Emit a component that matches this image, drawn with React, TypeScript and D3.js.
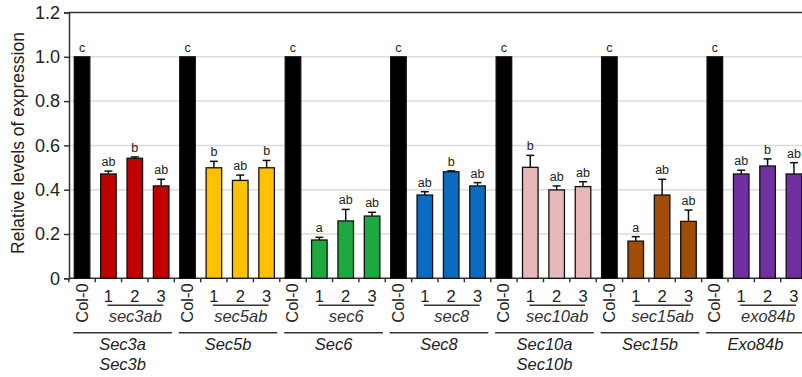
import React, { useEffect, useMemo, useRef } from "react";
import * as d3 from "d3";

const genes = [["Sec3a", "Sec3b"], ["Sec5b"], ["Sec6"], ["Sec8"], ["Sec10a", "Sec10b"], ["Sec15b"], ["Exo84b"]];
const mutants = ["sec3ab", "sec5ab", "sec6", "sec8", "sec10ab", "sec15ab", "exo84b"];
const lines = ["Col-0", "1", "2", "3"];
const means = [
  [1, 0.471, 0.542, 0.417],
  [1, 0.499, 0.442, 0.499],
  [1, 0.173, 0.259, 0.281],
  [1, 0.376, 0.481, 0.417],
  [1, 0.501, 0.399, 0.414],
  [1, 0.168, 0.376, 0.257],
  [1, 0.471, 0.507, 0.471],
];
const errors = [
  [0, 0.013, 0.006, 0.03],
  [0, 0.029, 0.024, 0.033],
  [0, 0.012, 0.052, 0.017],
  [0, 0.015, 0.004, 0.015],
  [0, 0.054, 0.018, 0.022],
  [0, 0.02, 0.071, 0.051],
  [0, 0.017, 0.032, 0.051],
];
const letters = [
  ["c", "ab", "b", "ab"],
  ["c", "b", "ab", "b"],
  ["c", "a", "ab", "ab"],
  ["c", "ab", "b", "ab"],
  ["c", "b", "ab", "ab"],
  ["c", "a", "ab", "ab"],
  ["c", "ab", "b", "ab"],
];
const yTicks = [0, 0.2, 0.4, 0.6, 0.8, 1.0, 1.2];
const colors = ["#c00000", "#ffc000", "#1fa83f", "#0a6cc0", "#e6b9b8", "#a04d08", "#7030a0"];

const FONT = "'Liberation Sans', Arial, sans-serif";
const TXT = "#222";
const WIDTH = 802;
const HEIGHT = 377;
const LEFT = 69;
const TOP = 12.5;
const BOTTOM = 278.3;

type Bar = { key: string; g: number; i: number; value: number; err: number; letter: string };

const bars: Bar[] = [];
means.forEach((row, g) =>
  row.forEach((value, i) =>
    bars.push({ key: `${g}-${i}`, g, i, value, err: errors[g][i], letter: letters[g][i] })
  )
);

export default function App() {
  const yAxisRef = useRef<SVGGElement>(null);

  const xScale = useMemo(
    () =>
      d3
        .scaleBand<string>()
        .domain(bars.map((d) => d.key))
        .range([LEFT, 807])
        .paddingInner(0.41)
        .paddingOuter(0.2),
    []
  );

  const yScale = useMemo(() => d3.scaleLinear().domain([0, 1.2]).range([BOTTOM, TOP]), []);

  useEffect(() => {
    const g = d3.select(yAxisRef.current);
    g.selectAll("*").remove();
    const axis = d3
      .axisLeft(yScale)
      .tickValues(yTicks)
      .tickSize(5)
      .tickPadding(4)
      .tickFormat((d) => (+d === 0 ? "0" : d3.format(".1f")(+d)));
    g.call(axis);
    g.select(".domain").attr("stroke", "#333").attr("stroke-width", 1.5);
    g.selectAll(".tick line").attr("stroke", "#333").attr("stroke-width", 1.5);
    g.selectAll(".tick text")
      .attr("font-size", 18)
      .attr("font-family", FONT)
      .attr("fill", TXT);
  }, [yScale]);

  const step = xScale.step();
  const bw = xScale.bandwidth();
  const half = (step * xScale.paddingInner()) / 2;
  const cx = (b: Bar) => (xScale(b.key) as number) + bw / 2;
  const boundaries = bars.map((b) => (xScale(b.key) as number) - half);

  return (
    <svg
      width={WIDTH}
      height={HEIGHT}
      style={{ position: "absolute", left: 0, top: 0, background: "#fff" }}
      fontFamily={FONT}
    >
      {/* grid */}
      {yTicks
        .filter((t) => t > 0 && t < 1.2)
        .map((t) => (
          <line key={t} x1={LEFT} x2={WIDTH} y1={yScale(t)} y2={yScale(t)} stroke="#dcdcdc" strokeWidth={1.5} />
        ))}

      {/* frame top + bottom */}
      <line x1={LEFT} x2={WIDTH} y1={TOP} y2={TOP} stroke="#333" strokeWidth={1.5} />
      <line x1={LEFT} x2={WIDTH} y1={BOTTOM} y2={BOTTOM} stroke="#333" strokeWidth={1.5} />
      {boundaries.map((x, k) => (
        <line key={k} x1={x} x2={x} y1={BOTTOM} y2={BOTTOM + 4} stroke="#333" strokeWidth={1.5} />
      ))}

      {/* bars */}
      {bars.map((b) => {
        const x = xScale(b.key) as number;
        const top = yScale(b.value);
        const errTop = yScale(b.value + b.err);
        const fill = b.i === 0 ? "#000" : colors[b.g];
        return (
          <g key={b.key}>
            <rect x={x} y={top} width={bw} height={BOTTOM - top} fill={fill} stroke="#111" strokeWidth={1.3} />
            {b.err > 0 && (
              <g stroke="#111" strokeWidth={1.5}>
                <line x1={cx(b)} x2={cx(b)} y1={top} y2={errTop} />
                <line x1={cx(b) - 4} x2={cx(b) + 4} y1={errTop} y2={errTop} />
              </g>
            )}
            <text x={cx(b)} y={errTop - 5} textAnchor="middle" fontSize={12.5} fill={TXT}>
              {b.letter}
            </text>
          </g>
        );
      })}

      {/* y axis */}
      <g ref={yAxisRef} transform={`translate(${LEFT},0)`} />
      <text
        transform={`translate(24,143) rotate(-90)`}
        textAnchor="middle"
        fontSize={17.5}
        fill={TXT}
      >
        Relative levels of expression
      </text>

      {/* x labels */}
      {bars.map((b) =>
        b.i === 0 ? (
          <text
            key={b.key}
            transform={`translate(${cx(b) + 5.5},${BOTTOM + 5}) rotate(-90)`}
            textAnchor="end"
            fontSize={16.5}
            fill={TXT}
          >
            {lines[b.i]}
          </text>
        ) : (
          <text key={b.key} x={cx(b)} y={BOTTOM + 23.5} textAnchor="middle" fontSize={16.5} fill={TXT}>
            {lines[b.i]}
          </text>
        )
      )}

      {mutants.map((m, g) => {
        const x1 = cx(bars[g * 4 + 1]) - 1;
        const x3 = cx(bars[g * 4 + 3]) + 2;
        const gx0 = (xScale(bars[g * 4].key) as number) - 1;
        const gx1 = (xScale(bars[g * 4 + 3].key) as number) + bw + 3;
        const mid = (gx0 + gx1) / 2;
        return (
          <g key={m}>
            <line x1={x1} x2={x3} y1={BOTTOM + 27} y2={BOTTOM + 27} stroke="#333" strokeWidth={1.5} />
            <text x={(x1 + x3) / 2} y={BOTTOM + 43.5} textAnchor="middle" fontSize={16.5} fontStyle="italic" fill="#333">
              {m}
            </text>
            <line x1={gx0} x2={gx1} y1={BOTTOM + 54.5} y2={BOTTOM + 54.5} stroke="#333" strokeWidth={1.5} />
            {genes[g].map((name, j) => (
              <text
                key={name}
                x={mid}
                y={BOTTOM + 72 + j * 20}
                textAnchor="middle"
                fontSize={16.5}
                fontStyle="italic"
                fill={TXT}
              >
                {name}
              </text>
            ))}
          </g>
        );
      })}
    </svg>
  );
}
